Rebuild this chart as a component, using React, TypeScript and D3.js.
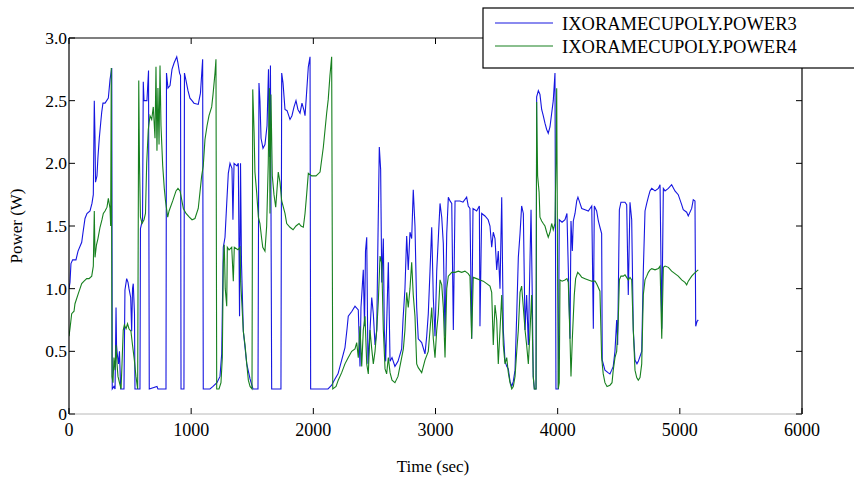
import React from 'react';
import * as d3 from 'd3';

// [time (sec), power (W)]
const power3: [number, number][] = [
  [0,1.00],[8,1.05],[16,1.20],[30,1.23],[57,1.23],[74,1.30],[104,1.37],[115,1.45],[131,1.56],[147,1.60],
  [172,1.62],[188,1.68],[199,1.75],[207,2.50],[213,2.20],[217,1.85],[229,1.90],[237,2.05],[248,2.20],[262,2.35],
  [268,2.41],[278,2.48],[295,2.48],[322,2.52],[336,2.67],[350,2.76],[354,0.20],[368,0.22],[377,0.20],[385,0.85],
  [389,0.55],[395,0.48],[405,0.40],[413,0.50],[423,0.20],[450,0.20],[458,0.99],[472,1.08],[483,1.05],[491,1.00],
  [505,0.93],[513,0.66],[520,1.00],[526,1.04],[536,0.80],[540,0.20],[581,0.20],[585,1.48],[602,1.55],[608,2.65],
  [614,2.50],[638,2.50],[651,2.74],[657,0.20],[720,0.22],[728,0.20],[794,0.20],[798,2.72],[810,2.60],[827,2.62],
  [843,2.75],[860,2.80],[882,2.85],[892,2.80],[905,2.72],[913,2.70],[917,0.20],[941,0.20],[945,2.72],[958,2.66],
  [974,2.58],[990,2.52],[1007,2.50],[1023,2.48],[1058,2.47],[1076,2.56],[1094,2.83],[1099,0.20],[1154,0.20],[1179,0.22],
  [1211,0.25],[1236,0.30],[1250,0.48],[1263,1.33],[1277,1.41],[1291,1.68],[1304,1.92],[1318,2.00],[1334,1.96],[1342,1.55],
  [1351,2.00],[1375,1.98],[1386,2.00],[1396,0.78],[1404,2.00],[1412,1.20],[1427,0.66],[1455,0.40],[1482,0.28],[1506,0.20],
  [1547,0.20],[1555,2.64],[1563,2.50],[1572,2.20],[1588,2.12],[1604,2.15],[1621,2.30],[1633,2.75],[1641,2.05],[1649,2.78],
  [1659,0.20],[1735,0.20],[1741,2.72],[1752,2.64],[1768,2.43],[1785,2.42],[1809,2.35],[1825,2.38],[1842,2.45],[1858,2.50],
  [1874,2.43],[1891,2.40],[1907,2.48],[1924,2.42],[1932,2.38],[1944,2.55],[1959,2.77],[1973,2.85],[1978,0.20],[2055,0.20],
  [2120,0.20],[2150,0.23],[2177,0.28],[2202,0.32],[2232,0.43],[2259,0.53],[2276,0.68],[2286,0.78],[2316,0.82],[2341,0.86],
  [2368,0.83],[2382,0.38],[2390,0.85],[2409,1.15],[2419,0.70],[2427,1.30],[2437,1.41],[2447,0.40],[2464,0.67],[2478,0.93],
  [2491,0.80],[2505,0.55],[2519,0.67],[2529,1.40],[2540,2.13],[2551,1.95],[2560,1.05],[2573,1.40],[2581,0.67],[2592,0.42],
  [2614,1.21],[2628,0.42],[2644,0.45],[2668,0.38],[2693,0.42],[2723,0.52],[2734,0.75],[2750,1.00],[2764,1.42],[2777,1.15],
  [2791,1.45],[2805,1.40],[2818,1.79],[2832,1.50],[2846,0.85],[2859,0.60],[2887,0.57],[2914,0.48],[2928,0.62],[2941,0.80],
  [2955,1.14],[2969,1.49],[2982,0.93],[2996,0.62],[3010,1.14],[3023,1.40],[3037,1.68],[3051,1.57],[3064,1.36],[3078,0.62],
  [3092,1.44],[3105,1.73],[3119,1.70],[3133,1.68],[3146,0.67],[3160,1.70],[3200,1.70],[3225,1.69],[3255,1.73],[3268,1.66],
  [3282,1.64],[3296,0.60],[3307,1.64],[3337,1.62],[3359,1.66],[3364,0.70],[3378,1.60],[3405,1.58],[3431,1.55],[3446,1.50],
  [3460,1.33],[3473,1.45],[3487,1.40],[3501,1.15],[3514,1.30],[3528,1.00],[3542,1.73],[3555,0.67],[3569,0.42],[3583,0.38],
  [3596,0.36],[3610,0.26],[3624,0.22],[3637,0.26],[3651,0.35],[3665,0.80],[3678,1.25],[3692,1.44],[3705,1.66],[3719,1.60],
  [3733,0.67],[3746,0.95],[3760,0.55],[3774,1.25],[3782,1.63],[3792,0.95],[3800,0.30],[3809,0.20],[3823,0.20],[3828,2.53],
  [3842,2.58],[3855,2.55],[3869,2.43],[3882,2.38],[3896,2.32],[3910,2.27],[3923,2.24],[3937,2.29],[3951,2.40],[3964,2.50],
  [3978,2.72],[3986,0.20],[4005,0.20],[4013,1.55],[4036,1.53],[4060,1.55],[4076,1.60],[4101,0.60],[4109,1.54],[4120,1.30],
  [4128,1.54],[4142,1.60],[4156,1.70],[4166,1.73],[4183,1.68],[4197,1.64],[4224,1.63],[4251,1.62],[4279,1.66],[4292,0.68],
  [4300,1.66],[4319,1.62],[4333,1.54],[4346,1.49],[4360,1.44],[4365,0.43],[4387,0.35],[4412,0.33],[4428,0.32],[4442,0.35],
  [4455,0.38],[4469,0.50],[4483,0.75],[4491,0.55],[4505,1.63],[4518,1.69],[4551,1.69],[4565,1.67],[4578,0.95],[4592,1.69],
  [4606,1.55],[4619,0.67],[4633,0.43],[4649,0.40],[4660,0.42],[4674,0.46],[4688,0.50],[4701,1.14],[4715,1.62],[4729,1.68],
  [4742,1.73],[4756,1.78],[4770,1.80],[4797,1.78],[4824,1.80],[4838,1.83],[4852,0.68],[4865,1.80],[4879,1.78],[4906,1.80],
  [4933,1.83],[4960,1.78],[4987,1.75],[5015,1.67],[5028,1.63],[5056,1.61],[5069,1.58],[5097,1.64],[5110,1.71],[5124,1.70],
  [5130,0.70],[5141,0.74],[5151,0.75],
];

const power4: [number, number][] = [
  [0,0.62],[8,0.68],[22,0.80],[41,0.82],[49,0.88],[76,0.96],[90,1.00],[104,1.04],[123,1.06],[145,1.08],
  [164,1.08],[186,1.10],[199,1.18],[207,1.62],[213,1.25],[225,1.35],[237,1.40],[254,1.49],[270,1.55],[281,1.60],
  [295,1.62],[311,1.65],[322,1.72],[336,1.64],[341,1.50],[346,2.76],[352,0.30],[360,0.25],[368,0.45],[377,0.35],
  [385,0.55],[393,0.40],[401,0.30],[413,0.25],[426,0.20],[434,0.40],[444,0.67],[453,0.71],[467,0.68],[479,0.72],
  [491,0.68],[507,0.66],[520,0.55],[535,0.43],[548,0.30],[562,0.20],[571,2.66],[577,2.00],[585,1.57],[598,1.52],
  [614,1.55],[626,1.60],[636,2.00],[649,2.27],[663,2.38],[677,2.35],[690,2.45],[704,2.20],[712,2.77],[720,2.10],
  [728,2.60],[737,2.15],[745,2.78],[753,2.30],[767,1.98],[780,1.80],[790,1.70],[808,1.57],[819,1.62],[849,1.70],
  [876,1.78],[892,1.80],[909,1.78],[936,1.64],[958,1.60],[985,1.57],[1007,1.55],[1031,1.56],[1058,1.64],[1086,1.90],
  [1099,1.98],[1113,2.19],[1130,2.30],[1146,2.38],[1168,2.45],[1179,2.55],[1195,2.72],[1203,2.83],[1209,0.20],[1228,0.20],
  [1244,0.25],[1255,0.45],[1263,1.20],[1271,1.35],[1279,1.00],[1291,0.86],[1296,1.33],[1310,1.31],[1332,1.33],[1345,1.06],
  [1353,1.33],[1383,1.31],[1400,1.33],[1405,1.06],[1414,0.90],[1427,0.66],[1441,0.55],[1455,0.40],[1468,0.27],[1482,0.22],
  [1498,0.20],[1504,2.59],[1515,2.25],[1522,1.93],[1536,1.77],[1550,1.57],[1563,1.52],[1577,1.40],[1586,1.33],[1604,1.30],
  [1618,1.50],[1631,2.00],[1640,2.60],[1645,1.60],[1653,2.55],[1664,1.90],[1678,1.75],[1692,1.65],[1713,1.93],[1727,1.85],
  [1741,1.70],[1768,1.60],[1782,1.52],[1809,1.49],[1834,1.47],[1858,1.50],[1883,1.52],[1899,1.50],[1918,1.49],[1932,1.60],
  [1946,1.76],[1959,1.92],[1987,1.90],[2022,1.90],[2055,1.93],[2082,2.13],[2096,2.27],[2109,2.40],[2122,2.51],[2136,2.70],
  [2150,2.85],[2159,0.20],[2186,0.22],[2204,0.27],[2232,0.33],[2259,0.40],[2286,0.45],[2314,0.50],[2341,0.52],[2355,0.57],
  [2368,0.45],[2382,0.70],[2396,0.38],[2409,0.67],[2423,0.78],[2437,0.40],[2450,0.32],[2464,0.67],[2478,0.52],[2491,0.40],
  [2505,0.50],[2519,0.67],[2532,0.90],[2546,1.26],[2560,1.20],[2573,0.67],[2587,0.36],[2600,0.32],[2614,0.45],[2628,0.33],
  [2644,0.27],[2668,0.25],[2693,0.30],[2723,0.45],[2737,0.52],[2750,0.67],[2764,0.97],[2777,0.85],[2791,1.00],[2805,1.21],
  [2818,0.95],[2832,0.78],[2846,0.40],[2859,0.37],[2887,0.33],[2914,0.43],[2941,0.50],[2955,0.67],[2969,0.85],[2982,0.60],
  [2996,0.45],[3010,0.67],[3023,0.80],[3037,1.07],[3051,1.03],[3064,0.85],[3078,0.45],[3092,1.00],[3105,1.10],[3133,1.13],
  [3160,1.13],[3187,1.14],[3214,1.13],[3241,1.14],[3268,1.12],[3282,1.10],[3296,0.60],[3309,1.09],[3337,1.08],[3364,1.07],
  [3391,1.06],[3419,1.04],[3446,1.02],[3460,0.97],[3473,0.55],[3487,0.87],[3501,0.75],[3514,0.40],[3528,0.67],[3542,0.95],
  [3555,0.55],[3569,0.40],[3583,0.45],[3596,0.33],[3610,0.25],[3624,0.20],[3637,0.22],[3651,0.30],[3665,0.50],[3678,0.67],
  [3692,0.97],[3705,1.02],[3719,0.85],[3733,0.67],[3746,0.55],[3760,0.40],[3774,0.67],[3787,0.95],[3800,0.30],[3809,0.20],
  [3823,0.20],[3828,2.49],[3836,1.90],[3848,1.77],[3855,1.57],[3869,1.54],[3882,1.52],[3896,1.50],[3910,1.45],[3923,1.41],
  [3937,1.45],[3951,1.52],[3964,1.47],[3978,1.52],[3986,2.00],[3992,2.60],[3999,1.20],[4005,0.20],[4013,0.25],[4019,1.07],
  [4036,1.06],[4060,1.07],[4076,1.08],[4087,1.05],[4101,0.60],[4109,0.30],[4120,0.60],[4136,0.95],[4147,1.08],[4164,1.13],
  [4183,1.11],[4197,1.09],[4224,1.08],[4251,1.07],[4279,1.06],[4306,1.06],[4319,1.04],[4333,1.01],[4346,0.98],[4360,0.45],
  [4373,0.32],[4387,0.25],[4404,0.22],[4428,0.23],[4445,0.25],[4455,0.35],[4469,0.45],[4483,0.50],[4496,0.75],[4505,1.07],
  [4518,1.10],[4537,1.10],[4551,1.11],[4578,1.07],[4592,1.09],[4606,1.07],[4619,0.67],[4633,0.35],[4647,0.29],[4660,0.27],
  [4674,0.29],[4688,0.40],[4701,0.95],[4715,1.07],[4729,1.10],[4742,1.13],[4756,1.15],[4770,1.16],[4797,1.15],[4824,1.16],
  [4838,1.18],[4852,0.60],[4865,1.17],[4879,1.18],[4906,1.17],[4933,1.14],[4960,1.12],[4987,1.10],[5015,1.07],[5042,1.05],
  [5056,1.03],[5069,1.06],[5097,1.10],[5116,1.12],[5138,1.14],[5151,1.15],
];

const xTicks = [0, 1000, 2000, 3000, 4000, 5000, 6000];
const yTicks = [0, 0.5, 1, 1.5, 2, 2.5, 3];
const yTickLabels = ['0', '0.5', '1.0', '1.5', '2.0', '2.5', '3.0'];
const seriesNames = ['IXORAMECUPOLY.POWER3', 'IXORAMECUPOLY.POWER4'];
const seriesColors = ['#1616e0', '#17801f'];

export default function App() {
  const W = 854, H = 480;
  const left = 69, right = 802, top = 38, bottom = 414;
  const x = d3.scaleLinear().domain([0, 6000]).range([left, right]);
  const y = d3.scaleLinear().domain([0, 3]).range([bottom, top]);
  const line = d3.line<[number, number]>().x(d => x(d[0])).y(d => y(d[1]));
  const font = "'Liberation Serif', 'Times New Roman', serif";
  const tick = 6;
  const series = [power3, power4];
  return (
    <svg width={W} height={H} style={{ position: 'absolute', left: 0, top: 0, background: '#fff' }} fontFamily={font}>
      <rect x={0} y={0} width={W} height={H} fill="#fff" />
      <defs>
        <clipPath id="plotclip">
          <rect x={left} y={top} width={right - left} height={bottom - top} />
        </clipPath>
      </defs>
      <g clipPath="url(#plotclip)">
        {series.map((s, i) => (
          <path key={i} d={line(s) || ''} fill="none" stroke={seriesColors[i]} strokeWidth={1.1} strokeLinejoin="miter" />
        ))}
      </g>
      {/* axes box */}
      <line x1={left} y1={top} x2={right} y2={top} stroke="#000" strokeWidth={1.2} />
      <line x1={right} y1={top} x2={right} y2={bottom} stroke="#000" strokeWidth={1.2} />
      <line x1={left} y1={top} x2={left} y2={bottom} stroke="#000" strokeWidth={1.2} />
      <line x1={left} y1={bottom} x2={right} y2={bottom} stroke="#b8b8b8" strokeWidth={1} />
      {xTicks.map((t, i) => (
        <g key={'xt' + i}>
          <line x1={x(t)} y1={bottom} x2={x(t)} y2={bottom - tick} stroke="#000" />
          <line x1={x(t)} y1={top} x2={x(t)} y2={top + tick} stroke="#000" />
          <text x={x(t)} y={436} textAnchor="middle" fontSize={18} fill="#000">{t}</text>
        </g>
      ))}
      {yTicks.map((t, i) => (
        <g key={'yt' + i}>
          <line x1={left} y1={y(t)} x2={left + tick} y2={y(t)} stroke="#000" />
          <line x1={right} y1={y(t)} x2={right - tick} y2={y(t)} stroke="#000" />
          <text x={left - 2} y={y(t) + 6} textAnchor="end" fontSize={17.5} fill="#000">{yTickLabels[i]}</text>
        </g>
      ))}
      <text x={433} y={472} textAnchor="middle" fontSize={17} fill="#000">Time (sec)</text>
      <text transform={`translate(22, ${(top + bottom) / 2}) rotate(-90)`} textAnchor="middle" fontSize={17} fill="#000">Power (W)</text>
      {/* legend */}
      <rect x={483} y={8} width={400} height={60} fill="#fff" stroke="#000" strokeWidth={1.2} />
      {seriesNames.map((n, i) => (
        <g key={'lg' + i}>
          <line x1={495} x2={553} y1={23 + i * 23} y2={23 + i * 23} stroke={seriesColors[i]} strokeWidth={1.2} />
          <text x={562} y={29.5 + i * 23} fontSize={18.5} fill="#000">{n}</text>
        </g>
      ))}
    </svg>
  );
}
